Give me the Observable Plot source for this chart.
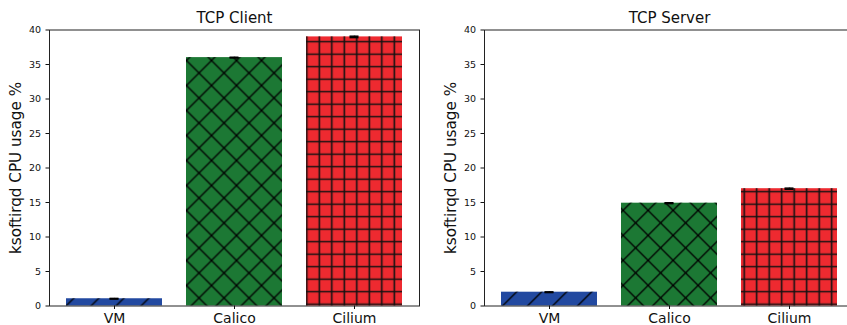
<!DOCTYPE html>
<html>
<head>
<meta charset="utf-8">
<script src="https://cdn.jsdelivr.net/npm/d3@7"></script>
<script src="https://cdn.jsdelivr.net/npm/@observablehq/plot@0.6"></script>
<style>
  html, body { margin: 0; padding: 0; background: white; }
  #wrap { position: relative; width: 847px; height: 325px; overflow: hidden; background: white; }
  #wrap > svg.panel { position: absolute; top: 0; }
</style>
</head>
<body>
<div id="wrap"></div>
<script>
const categories = ["VM", "Calico", "Cilium"];
const clientUsage = [1.05, 36.0, 39.0];
const clientError = [0.05, 0.05, 0.1];
const serverUsage = [2.0, 14.9, 17.0];
const serverError = [0.05, 0.06, 0.08];
const titles = ["TCP Client", "TCP Server"];
const yLabel = "ksoftirqd CPU usage %";
const yTicks = [0, 5, 10, 15, 20, 25, 30, 35, 40];
const barColors = ["#2249a0", "#1c7834", "#ee2a30"];
const hatchKinds = ["slash", "cross", "grid"];

// hatch pattern definitions (styling only)
function hatchDefs(prefix, diag, grid) {
  return `
  <pattern id="${prefix}-slash" patternUnits="userSpaceOnUse" width="25" height="25" x="${diag[0]}" y="${diag[1]}">
    <path d="M-5,5 L5,-5 M0,25 L25,0 M20,30 L30,20" stroke="#000" stroke-width="1.3" fill="none"/>
  </pattern>
  <pattern id="${prefix}-cross" patternUnits="userSpaceOnUse" width="25" height="25" x="${diag[0]}" y="${diag[1]}">
    <path d="M-5,5 L5,-5 M0,25 L25,0 M20,30 L30,20 M-5,20 L5,30 M0,0 L25,25 M20,-5 L30,5" stroke="#000" stroke-width="1.3" fill="none"/>
  </pattern>
  <pattern id="${prefix}-grid" patternUnits="userSpaceOnUse" width="12.5" height="12.5" x="${grid[0]}" y="${grid[1]}">
    <path d="M6.25,0 V12.5 M0,6.25 H12.5" stroke="#111" stroke-width="1.6" fill="none"/>
  </pattern>`;
}
const defsSvg = document.createElementNS("http://www.w3.org/2000/svg", "svg");
defsSvg.setAttribute("width", "0");
defsSvg.setAttribute("height", "0");
defsSvg.style.position = "absolute";
defsSvg.innerHTML = "<defs>" + hatchDefs("p0", [11.5, 10.5], [0.55, -2.05]) + hatchDefs("p1", [13.1, 10.4], [2.95, -2.05]) + "</defs>";
document.body.appendChild(defsSvg);

function panel(title, values, errors, prefix) {
  const data = categories.map((c, i) => ({
    cat: c, v: values[i], e: errors[i],
    color: barColors[i], hatch: `url(#${prefix}-${hatchKinds[i]})`
  }));
  return Plot.plot({
    width: 430, height: 325,
    marginLeft: 49, marginRight: 11, marginTop: 29.5, marginBottom: 19.5,
    style: { fontFamily: "DejaVu Sans", background: "white", color: "#111", overflow: "visible" },
    x: { domain: categories, paddingInner: 0.2, paddingOuter: 0.14, label: null },
    y: { domain: [0, 40], label: null },
    color: { type: "identity" },
    marks: [
      Plot.barY(data, { x: "cat", y: "v", fill: "color" }),
      Plot.barY(data, { x: "cat", y: "v", fill: "hatch" }),
      Plot.ruleX(data, { x: "cat", y1: d => d.v - d.e, y2: d => d.v + d.e, stroke: "black", strokeWidth: 1.5 }),
      Plot.tickY(data, { x: "cat", y: d => d.v + d.e, stroke: "black", strokeWidth: 1.5, insetLeft: 43.5, insetRight: 43.5 }),
      Plot.tickY(data, { x: "cat", y: d => d.v - d.e, stroke: "black", strokeWidth: 1.5, insetLeft: 43.5, insetRight: 43.5 }),
      Plot.frame({ stroke: "#222", strokeWidth: 1 }),
      Plot.axisY({ ticks: yTicks, tickSize: 3.5, tickPadding: 5, fontSize: 9.5, label: null }),
      Plot.axisX({ tickSize: 3.5, tickPadding: 3.5, fontSize: 14, label: null }),
      Plot.text([title], { frameAnchor: "top", lineAnchor: "middle", dy: -11.6, fontSize: 15, fill: "#111" }),
      Plot.text([yLabel], { frameAnchor: "left", textAnchor: "middle", lineAnchor: "middle", dx: -33, rotate: -90, fontSize: 15.2, fill: "#111" })
    ]
  });
}

const wrap = document.getElementById("wrap");
const left = panel(titles[0], clientUsage, clientError, "p0");
left.classList.add("panel");
left.style.left = "0px";
wrap.appendChild(left);
const right = panel(titles[1], serverUsage, serverError, "p1");
right.classList.add("panel");
right.style.left = "434.5px";
wrap.appendChild(right);
</script>
</body>
</html>
